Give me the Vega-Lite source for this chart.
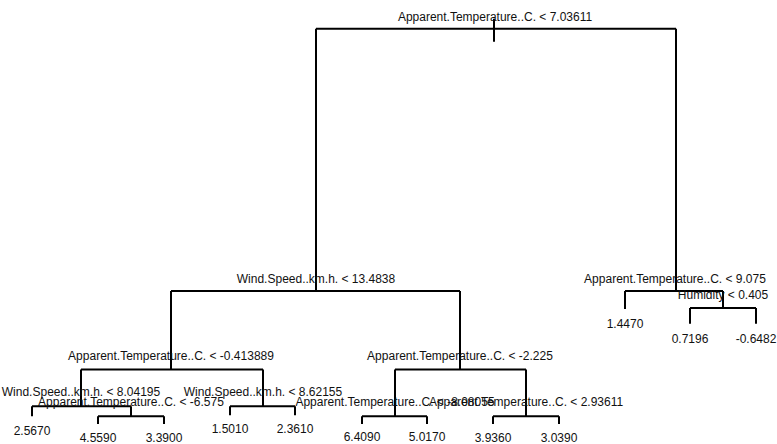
{
  "$schema": "https://vega.github.io/schema/vega-lite/v6.json",
  "width": 777,
  "height": 444,
  "autosize": {"type": "fit", "contains": "padding"},
  "padding": 0,
  "background": "white",
  "config": {"view": {"stroke": null}},
  "datasets": {
    "segments": [
      {"x": 494, "y": 19, "x2": 494, "y2": 42},
      {"x": 316, "y": 29, "x2": 676, "y2": 29},
      {"x": 316, "y": 29, "x2": 316, "y2": 293},
      {"x": 676, "y": 29, "x2": 676, "y2": 293},
      {"x": 171, "y": 293, "x2": 460, "y2": 293},
      {"x": 171, "y": 293, "x2": 171, "y2": 372},
      {"x": 460, "y": 293, "x2": 460, "y2": 372},
      {"x": 81, "y": 372, "x2": 263, "y2": 372},
      {"x": 81, "y": 372, "x2": 81, "y2": 409},
      {"x": 263, "y": 372, "x2": 263, "y2": 409},
      {"x": 32, "y": 409, "x2": 131, "y2": 409},
      {"x": 32, "y": 409, "x2": 32, "y2": 419},
      {"x": 131, "y": 409, "x2": 131, "y2": 419},
      {"x": 98, "y": 419, "x2": 164, "y2": 419},
      {"x": 98, "y": 419, "x2": 98, "y2": 427},
      {"x": 164, "y": 419, "x2": 164, "y2": 427},
      {"x": 230, "y": 409, "x2": 295, "y2": 409},
      {"x": 230, "y": 409, "x2": 230, "y2": 418},
      {"x": 295, "y": 409, "x2": 295, "y2": 418},
      {"x": 395, "y": 372, "x2": 526, "y2": 372},
      {"x": 395, "y": 372, "x2": 395, "y2": 419},
      {"x": 526, "y": 372, "x2": 526, "y2": 419},
      {"x": 362, "y": 419, "x2": 427, "y2": 419},
      {"x": 362, "y": 419, "x2": 362, "y2": 427},
      {"x": 427, "y": 419, "x2": 427, "y2": 427},
      {"x": 493, "y": 419, "x2": 559, "y2": 419},
      {"x": 493, "y": 419, "x2": 493, "y2": 427},
      {"x": 559, "y": 419, "x2": 559, "y2": 427},
      {"x": 625, "y": 293, "x2": 723, "y2": 293},
      {"x": 625, "y": 293, "x2": 625, "y2": 311},
      {"x": 723, "y": 293, "x2": 723, "y2": 310},
      {"x": 690, "y": 310, "x2": 756, "y2": 310},
      {"x": 690, "y": 310, "x2": 690, "y2": 326},
      {"x": 756, "y": 310, "x2": 756, "y2": 326}
    ],
    "labels": [
      {"x": 495, "y": 17, "label": "Apparent.Temperature..C. < 7.03611"},
      {"x": 316, "y": 281, "label": "Wind.Speed..km.h. < 13.4838"},
      {"x": 675, "y": 281, "label": "Apparent.Temperature..C. < 9.075"},
      {"x": 723, "y": 297, "label": "Humidity < 0.405"},
      {"x": 625, "y": 326, "label": "1.4470"},
      {"x": 690, "y": 341, "label": "0.7196"},
      {"x": 756, "y": 341, "label": "-0.6482"},
      {"x": 171, "y": 358, "label": "Apparent.Temperature..C. < -0.413889"},
      {"x": 460, "y": 358, "label": "Apparent.Temperature..C. < -2.225"},
      {"x": 81, "y": 395, "label": "Wind.Speed..km.h. < 8.04195"},
      {"x": 263, "y": 395, "label": "Wind.Speed..km.h. < 8.62155"},
      {"x": 131, "y": 405, "label": "Apparent.Temperature..C. < -6.575"},
      {"x": 395, "y": 405, "label": "Apparent.Temperature..C. < -8.08055"},
      {"x": 526, "y": 405, "label": "Apparent.Temperature..C. < 2.93611"},
      {"x": 32, "y": 434, "label": "2.5670"},
      {"x": 98, "y": 441, "label": "4.5590"},
      {"x": 164, "y": 441, "label": "3.3900"},
      {"x": 230, "y": 432, "label": "1.5010"},
      {"x": 295, "y": 432, "label": "2.3610"},
      {"x": 362, "y": 440, "label": "6.4090"},
      {"x": 427, "y": 440, "label": "5.0170"},
      {"x": 493, "y": 441, "label": "3.9360"},
      {"x": 559, "y": 441, "label": "3.0390"}
    ]
  },
  "layer": [
    {
      "data": {"name": "segments"},
      "mark": {"type": "rule", "color": "black", "strokeWidth": 2},
      "encoding": {
        "x": {"field": "x", "type": "quantitative", "scale": {"domain": [0, 777], "nice": false, "zero": false}, "axis": null},
        "y": {"field": "y", "type": "quantitative", "scale": {"domain": [0, 444], "nice": false, "zero": false, "reverse": true}, "axis": null},
        "x2": {"field": "x2"},
        "y2": {"field": "y2"}
      }
    },
    {
      "data": {"name": "labels"},
      "mark": {"type": "text", "font": "Liberation Sans", "fontSize": 12, "color": "#111111", "align": "center", "baseline": "middle"},
      "encoding": {
        "x": {"field": "x", "type": "quantitative", "scale": {"domain": [0, 777], "nice": false, "zero": false}, "axis": null},
        "y": {"field": "y", "type": "quantitative", "scale": {"domain": [0, 444], "nice": false, "zero": false, "reverse": true}, "axis": null},
        "text": {"field": "label"}
      }
    }
  ]
}
